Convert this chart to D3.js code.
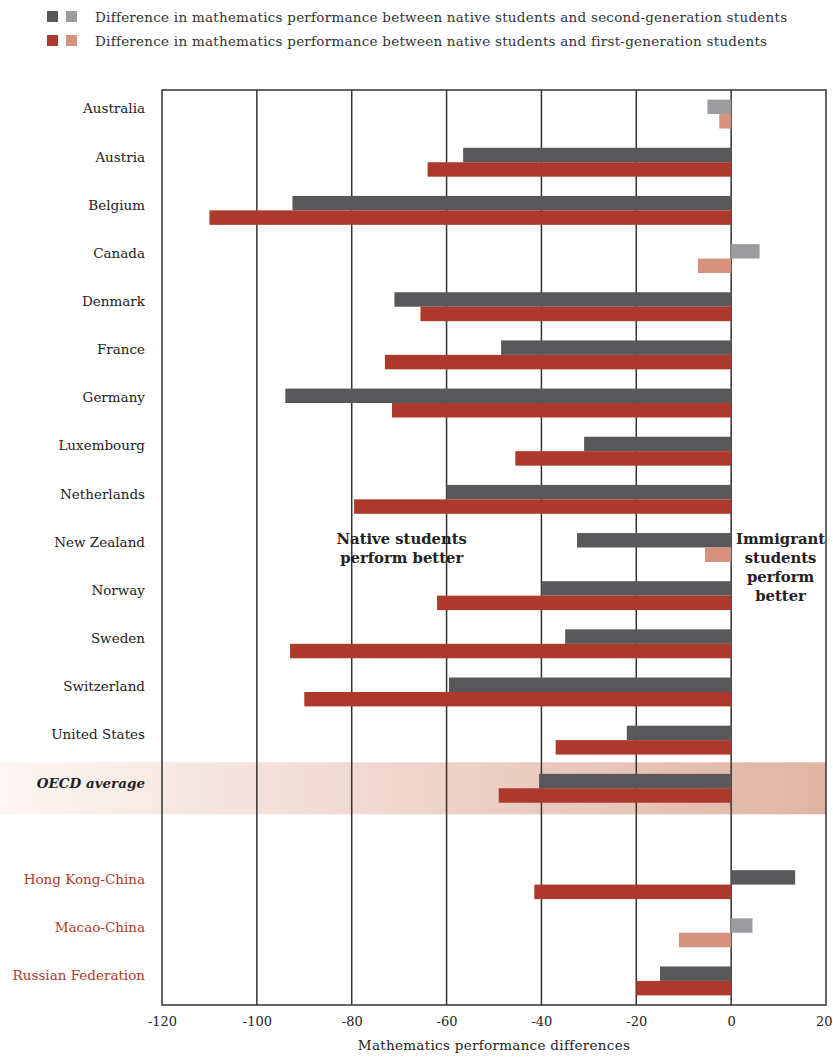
<!DOCTYPE html>
<html>
<head>
<meta charset="utf-8">
<script src="https://cdn.jsdelivr.net/npm/d3@7"></script>
<style>
  body { margin: 0; background: #fff; }
  svg { font-family: "DejaVu Serif", "Liberation Serif", serif; }
</style>
</head>
<body>
<div id="chart"></div>
<script>
// countries, with an empty slot between the OECD average and the partner economies
const countries = ['Australia', 'Austria', 'Belgium', 'Canada', 'Denmark', 'France', 'Germany',
  'Luxembourg', 'Netherlands', 'New Zealand', 'Norway', 'Sweden', 'Switzerland', 'United States',
  'OECD average', '', 'Hong Kong-China', 'Macao-China', 'Russian Federation'];
const partners = ['Hong Kong-China', 'Macao-China', 'Russian Federation'];

// native vs second-generation
const secondGen = [-5, -56.5, -92.5, 6, -71, -48.5, -94, -31, -60, -32.5, -40, -35, -59.5, -22,
  -40.5, null, 13.5, 4.5, -15];
const secondSig = [false, true, true, false, true, true, true, true, true, true, true, true, true, true,
  true, null, true, false, true];
// native vs first-generation
const firstGen = [-2.5, -64, -110, -7, -65.5, -73, -71.5, -45.5, -79.5, -5.5, -62, -93, -90, -37,
  -49, null, -41.5, -11, -20];
const firstSig = [false, true, true, false, true, true, true, true, true, false, true, true, true, true,
  true, null, true, false, true];

const xTicks = [-120, -100, -80, -60, -40, -20, 0, 20];

const colors = { gray: '#58585a', grayLight: '#9c9ca0', red: '#ad392c', redLight: '#d6927c' };

const W = 833, H = 1057;
const plotLeft = 162, plotRight = 826, plotTop = 90, plotBottom = 1005;
const fs = 13.5;

const svg = d3.select('#chart').append('svg')
  .attr('width', W)
  .attr('height', H);

const x = d3.scaleLinear().domain([-120, 20]).range([plotLeft, plotRight]);
const y = d3.scaleBand().domain(countries).range([plotTop, plotBottom])
  .paddingInner(0.4).paddingOuter(0.2);
const bw = y.bandwidth();

// legend
const legend = [
  { c: [colors.gray, colors.grayLight], t: 'Difference in mathematics performance between native students and second-generation students' },
  { c: [colors.red, colors.redLight], t: 'Difference in mathematics performance between native students and first-generation students' }
];
legend.forEach(function(l, i) {
  const ly = 11 + i * 24;
  svg.append('rect').attr('x', 47).attr('y', ly).attr('width', 11).attr('height', 11).attr('fill', l.c[0]);
  svg.append('rect').attr('x', 66).attr('y', ly).attr('width', 11).attr('height', 11).attr('fill', l.c[1]);
  svg.append('text').attr('x', 95).attr('y', ly + 6).attr('dy', '0.35em')
    .attr('font-size', fs).attr('letter-spacing', 0.25).attr('fill', '#333').text(l.t);
});

// OECD average band
const grad = svg.append('defs').append('linearGradient').attr('id', 'oecdGrad');
grad.append('stop').attr('offset', '0%').attr('stop-color', '#fdf6f4');
grad.append('stop').attr('offset', '100%').attr('stop-color', '#e0b4a3');
const oy = y('OECD average') + bw / 2;
svg.append('rect')
  .attr('x', 0).attr('y', oy - 26)
  .attr('width', plotRight).attr('height', 52)
  .attr('fill', 'url(#oecdGrad)');

// gridlines
svg.append('g').selectAll('line')
  .data(xTicks.slice(1, -1))
  .enter().append('line')
  .attr('x1', function(d) { return x(d); })
  .attr('x2', function(d) { return x(d); })
  .attr('y1', plotTop).attr('y2', plotBottom)
  .attr('stroke', '#333').attr('stroke-width', 1.5);

// frame
svg.append('rect')
  .attr('x', plotLeft).attr('y', plotTop)
  .attr('width', plotRight - plotLeft).attr('height', plotBottom - plotTop)
  .attr('fill', 'none').attr('stroke', '#333').attr('stroke-width', 1.5);

const rows = countries.map(function(c, i) {
  return { name: c, s: secondGen[i], ss: secondSig[i], f: firstGen[i], fs: firstSig[i] };
}).filter(function(d) { return d.name !== ''; });

const g = svg.append('g');
g.selectAll('.bar2')
  .data(rows)
  .enter().append('rect')
  .attr('class', 'bar2')
  .attr('x', function(d) { return x(Math.min(0, d.s)); })
  .attr('y', function(d) { return y(d.name); })
  .attr('width', function(d) { return Math.abs(x(d.s) - x(0)); })
  .attr('height', bw / 2)
  .attr('fill', function(d) { return d.ss ? colors.gray : colors.grayLight; });

g.selectAll('.bar1')
  .data(rows)
  .enter().append('rect')
  .attr('class', 'bar1')
  .attr('x', function(d) { return x(Math.min(0, d.f)); })
  .attr('y', function(d) { return y(d.name) + bw / 2; })
  .attr('width', function(d) { return Math.abs(x(d.f) - x(0)); })
  .attr('height', bw / 2)
  .attr('fill', function(d) { return d.fs ? colors.red : colors.redLight; });

// country labels
svg.append('g').selectAll('text')
  .data(rows)
  .enter().append('text')
  .attr('x', 145)
  .attr('y', function(d) { return y(d.name) + 9; })
  .attr('dy', '0.35em')
  .attr('text-anchor', 'end')
  .attr('font-size', fs)
  .attr('font-weight', function(d) { return d.name === 'OECD average' ? 'bold' : null; })
  .attr('font-style', function(d) { return d.name === 'OECD average' ? 'italic' : null; })
  .attr('fill', function(d) { return partners.indexOf(d.name) >= 0 ? '#b03a2d' : '#222'; })
  .text(function(d) { return d.name; });

// x axis
const axis = svg.append('g')
  .attr('transform', 'translate(0,' + plotBottom + ')')
  .call(d3.axisBottom(x).tickValues(xTicks).tickSize(0).tickPadding(12)
    .tickFormat(function(d) { return String(d); }));
axis.select('.domain').remove();
axis.selectAll('text')
  .attr('font-family', '"DejaVu Serif", serif')
  .attr('font-size', 13)
  .attr('fill', '#222');
// keep the last label inside the page
axis.selectAll('.tick').filter(function(d) { return d === 20; }).select('text')
  .attr('text-anchor', 'end').attr('x', 6);

svg.append('text')
  .attr('x', (plotLeft + plotRight) / 2).attr('y', 1045).attr('dy', '0.35em')
  .attr('text-anchor', 'middle').attr('font-size', fs).attr('letter-spacing', 0.3).attr('fill', '#222')
  .text('Mathematics performance differences');

// annotations
const noteY = y('New Zealand') + 11;
const native = svg.append('text').attr('text-anchor', 'middle')
  .attr('font-size', 14.8).attr('font-weight', 'bold').attr('fill', '#222');
['Native students', 'perform better'].forEach(function(t, i) {
  native.append('tspan').attr('x', x(-80) + 50).attr('y', noteY - 5 + i * 19).attr('dy', '0.35em').text(t);
});
const immig = svg.append('text').attr('text-anchor', 'middle')
  .attr('font-size', 14.8).attr('font-weight', 'bold').attr('fill', '#222');
['Immigrant', 'students', 'perform', 'better'].forEach(function(t, i) {
  immig.append('tspan').attr('x', x(10) + 2).attr('y', noteY - 5 + i * 19).attr('dy', '0.35em').text(t);
});
</script>
</body>
</html>
